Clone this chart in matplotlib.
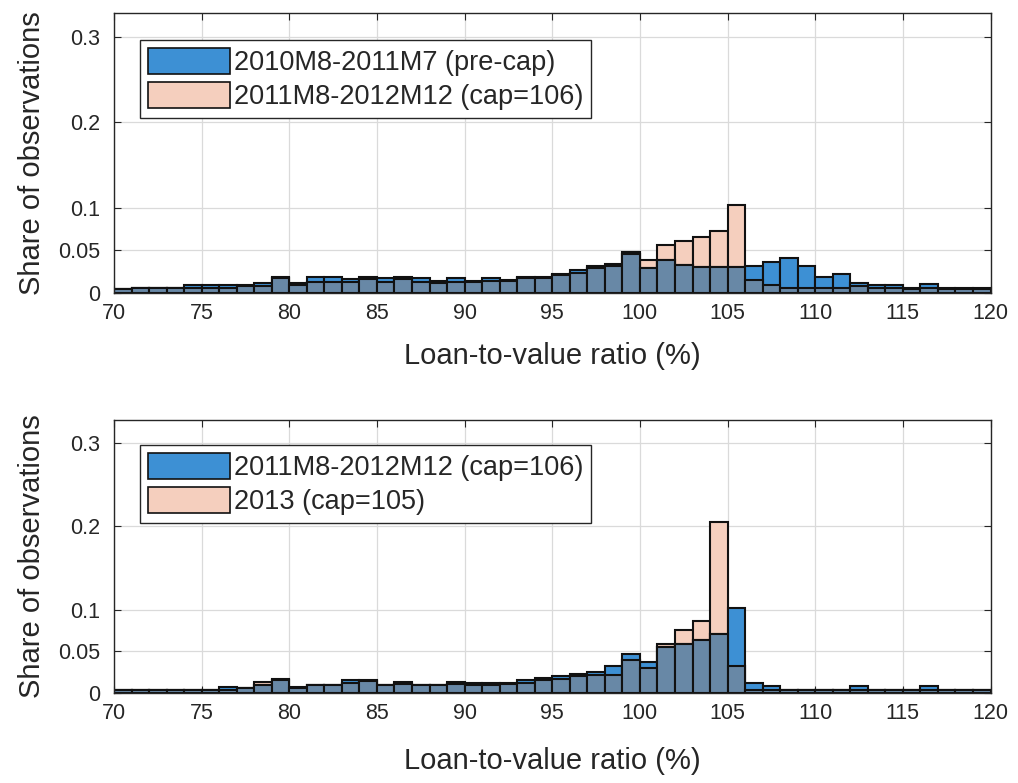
#!/usr/bin/env python3
"""LTV histograms before/after the cap, two panels stacked (MATLAB-style overlap)."""
import numpy as np
import matplotlib
matplotlib.use("Agg")
import matplotlib.pyplot as plt
from matplotlib.patches import Patch

plt.rcParams["font.family"] = ["Liberation Sans", "DejaVu Sans"]

# bin left edges, 1 pp wide
BIN_LEFT = list(range(70, 120))

# top panel: shares per bin
top_precap = [0.005, 0.006, 0.006, 0.006, 0.009, 0.009, 0.009, 0.009, 0.012, 0.019,
              0.012, 0.019, 0.019, 0.016, 0.019, 0.017, 0.019, 0.017, 0.014, 0.017,
              0.014, 0.017, 0.015, 0.019, 0.019, 0.022, 0.027, 0.032, 0.034, 0.048,
              0.029, 0.038, 0.033, 0.030, 0.030, 0.030, 0.031, 0.036, 0.041, 0.031,
              0.019, 0.022, 0.012, 0.009, 0.009, 0.006, 0.010, 0.006, 0.006, 0.006]
top_cap106 = [0.004, 0.006, 0.006, 0.006, 0.006, 0.006, 0.006, 0.008, 0.008, 0.017,
              0.009, 0.013, 0.013, 0.013, 0.016, 0.013, 0.016, 0.013, 0.011, 0.013,
              0.013, 0.014, 0.014, 0.017, 0.018, 0.021, 0.023, 0.029, 0.031, 0.046,
              0.038, 0.056, 0.061, 0.065, 0.072, 0.103, 0.015, 0.009, 0.006, 0.006,
              0.006, 0.006, 0.008, 0.006, 0.006, 0.005, 0.006, 0.005, 0.005, 0.005]

# bottom panel
bot_cap106 = [0.004, 0.004, 0.004, 0.004, 0.004, 0.004, 0.007, 0.006, 0.009, 0.017,
              0.007, 0.010, 0.010, 0.015, 0.015, 0.010, 0.013, 0.010, 0.010, 0.013,
              0.012, 0.012, 0.012, 0.015, 0.018, 0.020, 0.023, 0.025, 0.032, 0.047,
              0.037, 0.055, 0.059, 0.064, 0.071, 0.102, 0.012, 0.008, 0.004, 0.004,
              0.004, 0.004, 0.008, 0.004, 0.004, 0.004, 0.008, 0.004, 0.004, 0.004]
bot_cap105 = [0.003, 0.003, 0.003, 0.003, 0.003, 0.003, 0.004, 0.006, 0.013, 0.016,
              0.006, 0.009, 0.009, 0.012, 0.014, 0.009, 0.011, 0.009, 0.009, 0.011,
              0.010, 0.010, 0.011, 0.012, 0.015, 0.017, 0.020, 0.022, 0.022, 0.040,
              0.030, 0.059, 0.076, 0.086, 0.205, 0.032, 0.004, 0.003, 0.003, 0.003,
              0.003, 0.003, 0.003, 0.003, 0.004, 0.003, 0.003, 0.003, 0.003, 0.003]

PANELS = [
    (top_precap, top_cap106, "2010M8-2011M7 (pre-cap)", "2011M8-2012M12 (cap=106)"),
    (bot_cap106, bot_cap105, "2011M8-2012M12 (cap=106)", "2013 (cap=105)"),
]

BLUE = "#3d90d4"
PINK = "#f5cfbe"
OVERLAP = "#6888a6"
EDGE = "#111111"
INK = "#262626"

YTICKS = [0, 0.05, 0.1, 0.2, 0.3]
YTICKLABELS = ["0", "0.05", "0.1", "0.2", "0.3"]
XTICKS = list(range(70, 121, 5))

fig = plt.figure(figsize=(10.18, 7.83), dpi=100)
rects = [[0.112, 0.626, 0.861, 0.357], [0.112, 0.115, 0.861, 0.349]]
anchors = [0.904, 0.908]
xlabelpads = [13, 17]

for rect, anchor, lpad, (blue, pink, lab_b, lab_p) in zip(rects, anchors, xlabelpads, PANELS):
    ax = fig.add_axes(rect)
    x = np.array(BIN_LEFT, dtype=float)
    b = np.array(blue)
    p = np.array(pink)
    kw = dict(width=1.0, align="edge", edgecolor=EDGE, linewidth=1.5, zorder=3)
    ax.bar(x, p, color=PINK, **kw)
    ax.bar(x, b, color=BLUE, **kw)
    ax.bar(x, np.minimum(b, p), color=OVERLAP, **kw)

    ax.set_xlim(70, 120)
    ax.set_ylim(0, 0.328)
    ax.set_xticks(XTICKS)
    ax.set_yticks(YTICKS)
    ax.set_yticklabels(YTICKLABELS)
    ax.tick_params(direction="in", top=True, right=True, labelsize=15.5,
                   length=5, width=0.8, color=INK, labelcolor=INK)
    ax.tick_params(axis="x", pad=7)
    ax.tick_params(axis="y", pad=10)
    ax.grid(True, color="#dadada", linewidth=0.9, zorder=0)
    ax.set_axisbelow(True)
    for s in ax.spines.values():
        s.set_color(INK)
        s.set_linewidth(1.0)
        s.set_zorder(5)
    ax.set_xlabel("Loan-to-value ratio (%)", fontsize=21, color=INK, labelpad=lpad)
    ax.set_ylabel("Share of observations", fontsize=21, color=INK, labelpad=9)

    handles = [Patch(facecolor=BLUE, edgecolor=EDGE, linewidth=1.2, label=lab_b),
               Patch(facecolor=PINK, edgecolor=EDGE, linewidth=1.2, label=lab_p)]
    leg = ax.legend(handles=handles, loc="upper left", bbox_to_anchor=(0.03, anchor),
                    borderaxespad=0, fontsize=19.5, frameon=True, fancybox=False,
                    framealpha=1, edgecolor=INK, handlelength=3.0,
                    handleheight=1.1, handletextpad=0.15, labelspacing=0.2,
                    borderpad=0.3)
    leg.get_frame().set_linewidth(1.0)
    for t in leg.get_texts():
        t.set_color(INK)

fig.savefig("out.png", dpi=100)
